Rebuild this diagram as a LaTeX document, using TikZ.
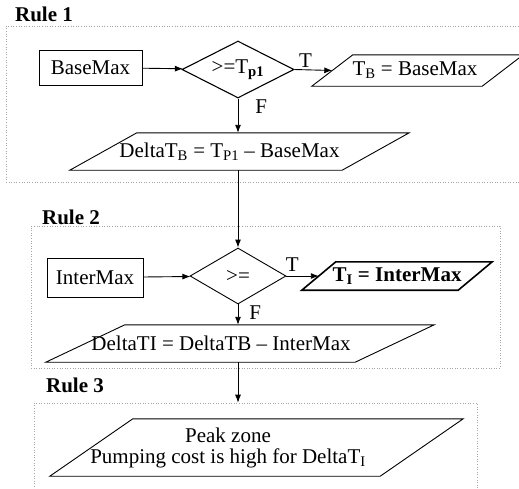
\documentclass[tikz,border=0pt]{standalone}
\usepackage{fontspec}
\setmainfont{Liberation Serif}
\usepackage{tikz}
\usetikzlibrary{shapes.geometric, arrows.meta}

% bingkai jajaran genjang di sekeliling node persegi
\newcommand{\ioframe}[3][]{%
  \draw[line width=0.9pt, #1] ([xshift=#3]#2.north west) -- (#2.north east)
    -- ([xshift=-#3]#2.south east) -- (#2.south west) -- cycle;}

\begin{document}
\begin{tikzpicture}[
    x=1pt, y=-1pt,
    every node/.style = {align=center, font=\fontsize{21}{21}\selectfont},
    inbox/.style    = {rectangle, draw, line width=0.9pt, inner sep=0pt},
    cond/.style     = {diamond, draw, line width=0.9pt, inner sep=0pt, shape aspect=2},
    io/.style       = {rectangle, inner sep=0pt},
    rulebox/.style  = {rectangle, draw=gray!70, dotted, line width=0.6pt, inner sep=0pt},
    rulelabel/.style= {font=\fontsize{21}{21}\selectfont\bfseries, inner sep=0pt},
    tf/.style       = {inner sep=1pt},
    arrow/.style    = {-{Latex[length=8pt, width=6pt]}, line width=0.9pt},
]
\useasboundingbox (0,0) rectangle (519,488);

% --- Kotak aturan (bertitik) ---
\node[rulebox, minimum width=524, minimum height=156] (rule1) at (268,104) {};
\node[rulebox, minimum width=469, minimum height=142] (rule2) at (265.5,297) {};
\node[rulebox, minimum width=443, minimum height=97]  (rule3) at (255.5,451.5) {};
\node[rulelabel] (lab1) at (44,14)  {Rule 1};
\node[rulelabel] (lab2) at (71,217) {Rule 2};
\node[rulelabel] (lab3) at (75,385) {Rule 3};

% --- Rule 1 ---
\node[inbox, minimum width=103, minimum height=35] (basemax) at (90.5,67.5) {BaseMax};
\node[cond, minimum width=112, minimum height=57, line width=1.1pt] (d1) at (238,69.5)
    {>=T\textsubscript{\textbf{p1}}};
\node[io, minimum width=211, minimum height=31] (tb) at (417.5,70.5)
    {T\textsubscript{B} = BaseMax\hspace*{5pt}};
\ioframe{tb}{41pt}
% teks digeser ke kiri dengan spasi di ujung baris
\node[io, minimum width=339, minimum height=37] (dtb) at (239.5,151.5)
    {DeltaT\textsubscript{B} = T\textsubscript{P1} – BaseMax\hspace*{20pt}};
\ioframe{dtb}{67pt}

% --- Rule 2 ---
\node[inbox, minimum width=96, minimum height=39] (intermax) at (95,277.5) {InterMax};
\node[cond, minimum width=96, minimum height=56] (d2) at (238,276) {>=};
\node[io, minimum width=190, minimum height=28] (ti) at (397,276)
    {\textbf{T\textsubscript{I} = InterMax}};
\ioframe[line width=1.6pt]{ti}{34pt}
\node[io, minimum width=388, minimum height=37] (dti) at (240,343.5)
    {DeltaTI = DeltaTB – InterMax\hspace*{38pt}};
\ioframe{dti}{79pt}

% --- Rule 3 ---
\node[io, minimum width=413, minimum height=57] (peak) at (256.5,447.5)
    {Peak zone\hspace*{57pt}\\Pumping cost is high for DeltaT\textsubscript{I}\hspace*{57pt}};
\ioframe{peak}{83pt}

% --- Panah ---
\draw[arrow] (basemax) -- (d1);
\draw[arrow] (d1.east) -- ([xshift=20.5pt]tb.west)
    node[tf, pos=0, anchor=south west, xshift=3pt, yshift=1pt] {T};
\draw[arrow] (d1.south) -- (d1.south |- dtb.north)
    node[tf, pos=0.25, right=16pt] {F};
\draw[arrow] (d2.north |- dtb.south) -- (d2.north);
\draw[arrow] (intermax) -- (d2);
\draw[arrow] (d2.east) -- ([xshift=17pt]ti.west)
    node[tf, pos=0, anchor=south west, xshift=-2pt, yshift=3pt] {T};
\draw[arrow] (d2.south) -- (d2.south |- dti.north)
    node[tf, pos=0.4, right=10pt] {F};
\draw[arrow] (d2.south |- dti.south) -- (d2.south |- rule3.north);

\end{tikzpicture}
\end{document}
